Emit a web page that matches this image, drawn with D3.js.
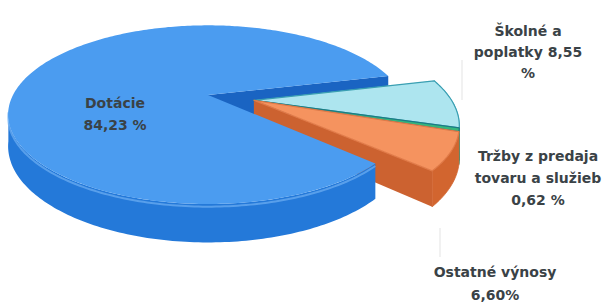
<!DOCTYPE html>
<html>
<head>
<meta charset="utf-8">
<script src="https://cdn.jsdelivr.net/npm/d3@7"></script>
<style>
  body { margin: 0; background: #fff; }
  text { font-family: "DejaVu Sans", sans-serif; font-weight: bold; fill: #3a4246; }
</style>
</head>
<body>
<script>
{
  const categories = ['Dotácie', 'Školné a poplatky', 'Tržby z predaja tovaru a služieb', 'Ostatné výnosy'];
  const values = [84.23, 8.55, 0.62, 6.60];
  const labelLines = [
    ['Dotácie', '84,23 %'],
    ['Školné a', 'poplatky 8,55', '%'],
    ['Tržby z predaja', 'tovaru a služieb', '0,62 %'],
    ['Ostatné výnosy', '6,60%']
  ];
  const exploded = [false, true, true, true];

  const TOP = ['#4b9cf0', '#ade5ef', '#35b67c', '#f5935f'];
  const SIDE = ['#2479d9', '#5bbccc', '#1f8a6a', '#d2652f'];
  const CUT = ['#1a64c2', '#7fcbd8', '#1f8a6a', '#cc6230'];
  const EDGE = ['#7bb9f6', '#3a9fb2', '#1b7c84', '#e07a48'];

  const W = 608, H = 303;
  const cx = 208, cy = 95, RX = 195, RY = 85, persp = 0.22, depth = 30, explode = 0.24;
  const rotation = 133.2 * Math.PI / 180;

  // label placement: centre x, centre y of first line, line step
  const labelPos = [[115, 103, 22], [528, 31, 21], [538, 156, 22], [495, 272, 23]];

  const svg = d3.select('body').append('svg')
    .attr('width', W)
    .attr('height', H);

  const pie = d3.pie()
    .sort(null)
    .startAngle(rotation)
    .endAngle(rotation + 2 * Math.PI);

  const arcs = pie(values);

  const groupMid = (arcs[1].startAngle + arcs[3].endAngle) / 2;
  const groupOff = [explode * Math.sin(groupMid), -explode * Math.cos(groupMid)];
  const noOff = [0, 0];

  function project(u, v, h) {
    const s = 1 / (1 - persp * v);
    return [cx + RX * u * s, cy + (RY * v + depth * h) * s];
  }

  function rim(a, off, h) {
    return project(off[0] + Math.sin(a), off[1] - Math.cos(a), h);
  }

  function arcPts(a0, a1, off, h) {
    const n = Math.max(2, Math.ceil(Math.abs(a1 - a0) / (Math.PI / 180)));
    return d3.range(n + 1).map((i) => rim(a0 + (a1 - a0) * i / n, off, h));
  }

  const closed = d3.line().curve(d3.curveLinearClosed);
  const open = d3.line();

  function topFace(d, off) {
    return closed([project(off[0], off[1], 0)].concat(arcPts(d.startAngle, d.endAngle, off, 0)));
  }

  function crust(a0, a1, off) {
    return closed(arcPts(a0, a1, off, 0).concat(arcPts(a1, a0, off, 1)));
  }

  function cutFace(a, off) {
    return closed([project(off[0], off[1], 0), rim(a, off, 0), rim(a, off, 1), project(off[0], off[1], 1)]);
  }

  const chart = svg.append('g');

  // blue cut face seen through the notch
  chart.append('path')
    .attr('d', cutFace(arcs[0].endAngle, noOff))
    .attr('fill', CUT[0]);

  // exploded slices
  const small = arcs.filter((d, i) => exploded[i]);

  small.forEach((d) => {
    chart.append('path')
      .attr('d', crust(d.startAngle, d.endAngle, groupOff))
      .attr('fill', SIDE[d.index])
      .attr('stroke', SIDE[d.index])
      .attr('stroke-width', 0.8);
  });

  const last = small[small.length - 1];
  chart.append('path')
    .attr('d', cutFace(last.endAngle, groupOff))
    .attr('fill', CUT[last.index]);

  small.forEach((d) => {
    chart.append('path')
      .attr('d', topFace(d, groupOff))
      .attr('fill', TOP[d.index])
      .attr('stroke', EDGE[d.index])
      .attr('stroke-width', 1.2)
      .attr('stroke-linejoin', 'round');
  });

  // big slice: visible part of the side, then the top
  const visEnd = 2 * Math.PI - Math.acos(-persp) + 0.05;
  const blueSide = chart.append('g');
  blueSide.append('path')
    .attr('d', crust(arcs[0].startAngle, visEnd, noOff))
    .attr('fill', SIDE[0]);
  blueSide.append('path')
    .attr('d', open(arcPts(arcs[0].startAngle, visEnd, noOff, 0.07)))
    .attr('fill', 'none')
    .attr('stroke', EDGE[0])
    .attr('stroke-width', 2)
    .attr('opacity', 0.6);

  chart.append('path')
    .attr('d', topFace(arcs[0], noOff))
    .attr('fill', TOP[0]);

  // faint leader lines
  svg.append('line')
    .attr('x1', 462).attr('y1', 60).attr('x2', 462).attr('y2', 100)
    .attr('stroke', '#ececec').attr('stroke-width', 1.5);
  svg.append('line')
    .attr('x1', 440).attr('y1', 228).attr('x2', 440).attr('y2', 257)
    .attr('stroke', '#ececec').attr('stroke-width', 1.5);

  // labels
  const labels = svg.append('g')
    .selectAll('text')
    .data(categories)
    .join('text')
      .attr('text-anchor', 'middle')
      .attr('font-size', 14);

  labels.each(function(c, i) {
    const [x, y, step] = labelPos[i];
    d3.select(this)
      .selectAll('tspan')
      .data(labelLines[i])
      .join('tspan')
        .attr('x', x)
        .attr('y', (t, j) => y + j * step)
        .attr('dy', '0.35em')
        .text((t) => t);
  });
}
</script>
</body>
</html>
